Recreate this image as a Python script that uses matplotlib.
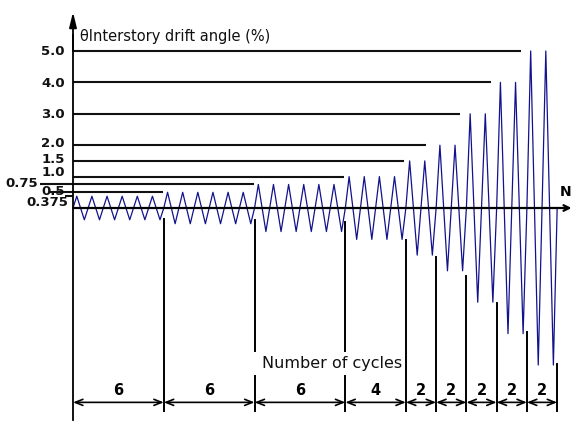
import matplotlib
matplotlib.use("Agg")
import matplotlib.pyplot as plt
from matplotlib.patches import FancyArrowPatch, Rectangle
import numpy as np

# ---- data ----
amplitudes = [0.375, 0.5, 0.75, 1.0, 1.5, 2.0, 3.0, 4.0, 5.0]   # interstory drift angle (%)
cycles = [6, 6, 6, 4, 2, 2, 2, 2, 2]                            # number of cycles per step
level_labels = ["0.375", "0.5", "0.75", "1.0", "1.5", "2.0", "3.0", "4.0", "5.0"]
cycle_labels = ["6", "6", "6", "4", "2", "2", "2", "2", "2"]

# ---- layout / style (schematic geometry, not data) ----
guide_start = [-0.53, -1.5, -2.2, 0, 0, 0, 0, 0, 0]
guide_end = [0, 5.95, 11.96, 17.89, 21.88, 23.33, 25.56, 27.63, 29.59]
label_dy = [-0.2, 0.04, 0.02, 0.12, 0.03, 0.04, -0.01, -0.02, -0.03]
label_x = [-0.33, -0.53, -2.3, -0.53, -0.53, -0.53, -0.53, -0.53, -0.53]
boundary_top = [-0.35, -0.38, -0.44, -1.02, -1.56, -2.17, -3.03, -3.95, -4.97]

WAVE = "#12128c"

fig = plt.figure(figsize=(5.72, 4.21), dpi=100)
ax = fig.add_axes([0, 0, 1, 1])
ax.set_xlim(-73 / 15.13, (572 - 73) / 15.13)
ax.set_ylim(-(421 - 208) / 31.4, 208 / 31.4)
ax.axis("off")

# wave
xs, ys = [0.0], [0.0]
n0 = 0
for A, c in zip(amplitudes, cycles):
    for k in range(c):
        s = n0 + k
        xs += [s + 0.25, s + 0.75, s + 1.0]
        ys += [A, -A, 0.0]
    n0 += c
ax.plot(xs, ys, color=WAVE, lw=0.9, zorder=3)

# level guide lines and labels
for A, lab, x0, x1, dy, lx in zip(amplitudes, level_labels, guide_start, guide_end, label_dy, label_x):
    ax.plot([x0, x1], [A, A], color="#111111", lw=1.5, zorder=2, solid_capstyle="butt")
    ax.text(lx, A + dy, lab, ha="right", va="center", fontsize=9.5,
            fontweight="bold", color="#111111", zorder=5)

# axes
ax.plot([0, 0], [-6.75, 5.5], color="k", lw=1.3, zorder=4)
ax.add_patch(FancyArrowPatch((0, 5.0), (0, 6.24), arrowstyle="-|>,head_length=0.9,head_width=0.22",
                             mutation_scale=10, color="k", lw=1.3, shrinkA=0, shrinkB=0, zorder=4))
ax.add_patch(FancyArrowPatch((0, 0), (32.95, 0), arrowstyle="->,head_length=0.4,head_width=0.2",
                             mutation_scale=10, color="k", lw=1.6, shrinkA=0, shrinkB=0, zorder=4))
ax.text(32.55, 0.51, "N", ha="center", va="center", fontsize=10, fontweight="bold")

ax.text(0.46, 5.46, "θInterstory drift angle (%)", ha="left", va="center", fontsize=10.5,
        color="#111111")

# block boundaries and dimension arrows
bounds = np.concatenate([[0], np.cumsum(cycles)])
for b, top in zip(bounds[1:], boundary_top):
    ax.plot([b, b], [top, -6.48], color="k", lw=1.4, zorder=2)
for a, b, lab in zip(bounds[:-1], bounds[1:], cycle_labels):
    ax.add_patch(FancyArrowPatch((a, -6.19), (b, -6.19), arrowstyle="<->,head_length=0.55,head_width=0.22",
                                 mutation_scale=10, color="k", lw=1.2, shrinkA=0, shrinkB=0, zorder=3))
    ax.text((a + b) / 2, -5.80, lab, ha="center", va="center", fontsize=10.5, fontweight="bold")

# axis title for N
ax.add_patch(Rectangle((11.7, -5.32), 9.6, 0.74, facecolor="white", edgecolor="none", zorder=3))
ax.text(17.1, -4.95, "Number of cycles", ha="center", va="center", fontsize=11.5,
        color="#111111", zorder=4)

fig.savefig("out.png", dpi=100)
